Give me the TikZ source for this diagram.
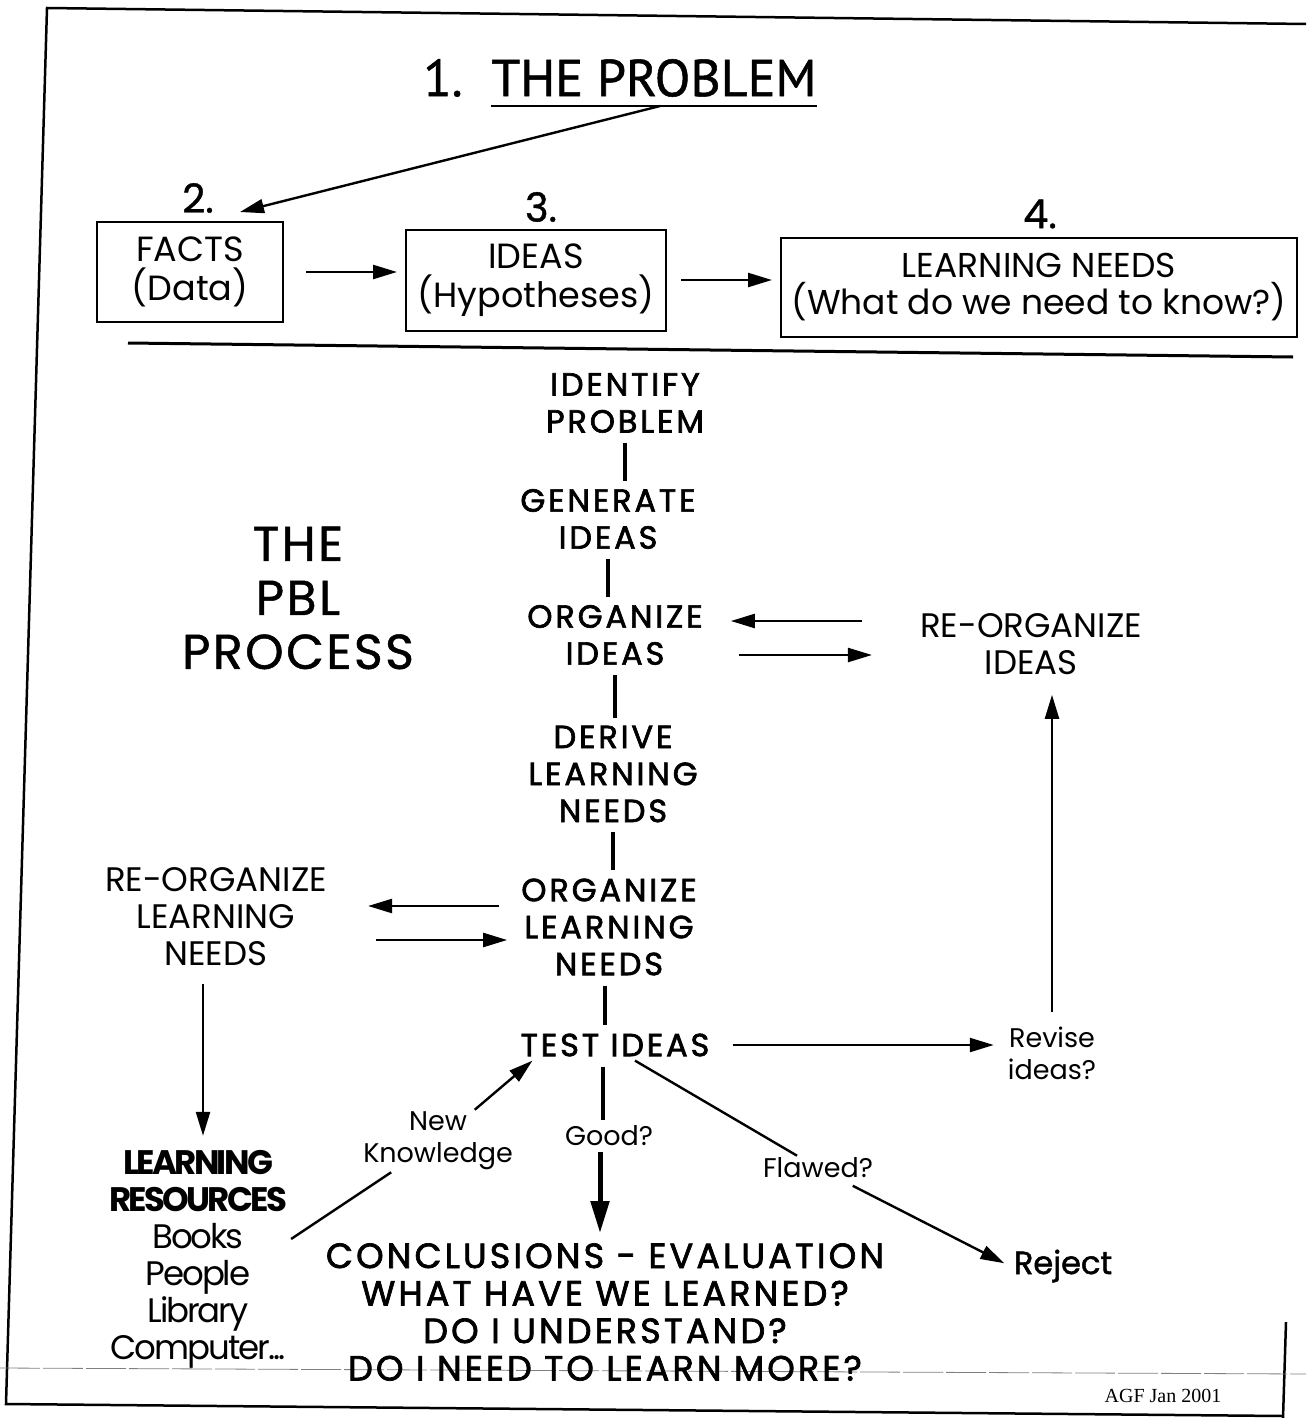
\documentclass[tikz,border=0pt]{standalone}
\usepackage{fontspec}
\setmainfont{Poppins}
\newfontfamily\titlefont{PT Sans}[FakeBold=1]
\newfontfamily\stepfont{Poppins}[LetterSpace=9,FakeBold=2]
\newfontfamily\resfont{Poppins}[LetterSpace=-6]
\newfontfamily\footfont{Liberation Serif}
\usetikzlibrary{arrows.meta}

\begin{document}
\begin{tikzpicture}[x=1pt,y=-1pt,
  txt/.style={inner sep=4pt,align=center},
  titlenode/.style={inner xsep=0pt,font=\titlefont\fontsize{52}{56}\selectfont},
  numnode/.style={txt,font=\fontsize{40}{44}\selectfont\addfontfeatures{FakeBold=1}},
  box/.style={draw,line width=2pt,inner sep=0pt,align=center,font=\fontsize{35}{39}\selectfont},
  stepnode/.style={txt,font=\stepfont\fontsize{32}{37}\selectfont},
  sidenode/.style={txt,font=\fontsize{34}{37}\selectfont},
  smallnode/.style={txt,inner sep=2pt,font=\fontsize{27}{32}\selectfont},
  conn/.style={line width=2.4pt},
  arr/.style={conn,-{Triangle[length=24pt,width=14pt]}},
  stem/.style={line width=3.8pt,shorten <=6pt,shorten >=4pt}]
\useasboundingbox (0,0) rectangle (1306,1418);

\draw[line width=2.5pt] (1306,24) -- (47,8) -- (6,1404) -- (1283,1416);
\draw[line width=2.5pt] (1283,1418) -- (1286,1322);
\draw[line width=0.8pt,gray,dash pattern=on 40pt off 3pt] (0,1368) -- (1306,1374);
\draw[line width=3pt] (128,343) -- (1293,357);

\node[titlenode] (num1) at (443,78) {1.};
\node[titlenode,inner ysep=9pt] (problem) at (654,78) {THE PROBLEM};
\draw[line width=2.5pt] (problem.south west) -- (problem.south east);

\node[numnode] (num2) at (198,198) {2.};
\node[numnode] (num3) at (541,207) {3.};
\node[numnode] (num4) at (1040,214) {4.};

\node[box,minimum width=186pt,minimum height=100pt] (facts) at (190,272) {FACTS\\(Data)};
\node[box,minimum width=260pt,minimum height=101pt] (ideas) at (536,280) {IDEAS\\(Hypotheses)};
\node[box,minimum width=516pt,minimum height=99pt,font=\fontsize{34.5}{37}\selectfont] (needs) at (1039,287) {LEARNING NEEDS\\(What do we need to know?)};

\draw[arr] ([xshift=6pt]problem.south) -- ([xshift=50pt,yshift=9pt]facts.north);
\draw[arr,shorten <=22pt,shorten >=8pt] (facts.east) -- (facts.east -| ideas.west);
\draw[arr,shorten <=14pt,shorten >=8pt] (ideas.east) -- (ideas.east -| needs.west);

\node[txt,font=\fontsize{49}{54}\selectfont\addfontfeatures{LetterSpace=5,FakeBold=1}] (pbl) at (298,598) {THE\\PBL\\PROCESS};

\node[stepnode] (identify) at (625,403) {IDENTIFY\\PROBLEM};
\node[stepnode] (generate) at (608,519) {GENERATE\\IDEAS};
\node[stepnode] (organize) at (615,635) {ORGANIZE\\IDEAS};
\node[stepnode] (derive) at (613,774) {DERIVE\\LEARNING\\NEEDS};
\node[stepnode] (orglearn) at (609,927) {ORGANIZE\\LEARNING\\NEEDS};
\node[stepnode] (testideas) at (615,1045) {TEST IDEAS};
\node[smallnode] (good) at (609,1136) {Good?};
\node[stepnode,font=\stepfont\fontsize{35}{37.5}\selectfont] (conclusions) at (605,1312) {CONCLUSIONS - EVALUATION\\WHAT HAVE WE LEARNED?\\DO I UNDERSTAND?\\DO I NEED TO LEARN MORE?};

\draw[stem] (identify.south) -- (identify.south |- generate.north);
\draw[stem] (generate.south) -- (generate.south |- organize.north);
\draw[stem] (organize.south) -- (organize.south |- derive.north);
\draw[stem] (derive.south) -- (derive.south |- orglearn.north);
\draw[stem] ([xshift=-4pt]orglearn.south) -- ([xshift=-4pt]orglearn.south |- testideas.north);
\draw[stem] ([xshift=-12pt]testideas.south) -- ([xshift=-12pt]testideas.south |- good.north);
\draw[line width=5pt,-{Triangle[length=32pt,width=18pt]},shorten <=4pt,shorten >=6pt] ([xshift=-9pt]good.south) -- ([xshift=-9pt]good.south |- conclusions.north);

\node[sidenode] (reorgideas) at (1031,644) {RE-ORGANIZE\\IDEAS};
\draw[arr,shorten <=54pt,shorten >=24pt] ([yshift=14pt]reorgideas.west |- organize.east) -- ([yshift=14pt]organize.east);
\draw[arr,shorten <=32pt,shorten >=44pt] ([yshift=-20pt]organize.east) -- ([yshift=-20pt]organize.east -| reorgideas.west);

\node[smallnode] (revise) at (1052,1053) {Revise\\ideas?};
\draw[arr,shorten <=19pt,shorten >=12pt] (testideas.east) -- (testideas.east -| revise.west);
\draw[arr,shorten <=12pt,shorten >=16pt] (revise.north) -- (revise.north |- reorgideas.south);

\node[sidenode] (reorglearn) at (216,917) {RE-ORGANIZE\\LEARNING\\NEEDS};
\draw[arr,shorten <=18pt,shorten >=37pt] ([yshift=21pt]orglearn.west) -- ([yshift=21pt]orglearn.west -| reorglearn.east);
\draw[arr,shorten <=45pt,shorten >=10pt] ([yshift=-13pt]reorglearn.east |- orglearn.west) -- ([yshift=-13pt]orglearn.west);

\node[txt,font=\resfont\fontsize{34}{37}\selectfont] (resources) at (198,1259) {{\bfseries\addfontfeatures{LetterSpace=-8} LEARNING}\\{\bfseries\addfontfeatures{LetterSpace=-8} RESOURCES}\\Books\\People\\Library\\Computer...};
\draw[arr,shorten <=14pt,shorten >=10pt] ([xshift=-13pt]reorglearn.south) -- ([xshift=-13pt]reorglearn.south |- resources.north);

\node[smallnode] (newknow) at (438,1141) {New\\Knowledge};
\draw[conn] ([yshift=20pt]resources.east) -- (newknow);
\draw[arr] (newknow) -- ([xshift=16pt]testideas.south west);

\node[smallnode] (flawed) at (818,1168) {Flawed?};
\node[txt,font=\fontsize{32}{37}\selectfont\addfontfeatures{FakeBold=1.5}] (reject) at (1063,1266) {Reject};
\draw[conn] (testideas.-38) -- (flawed);
\draw[arr,shorten <=12pt,shorten >=6pt] (flawed) -- (reject.west);

\node[txt,font=\footfont\fontsize{20}{22}\selectfont] (footer) at (1163,1396) {AGF Jan 2001};
\end{tikzpicture}
\end{document}
